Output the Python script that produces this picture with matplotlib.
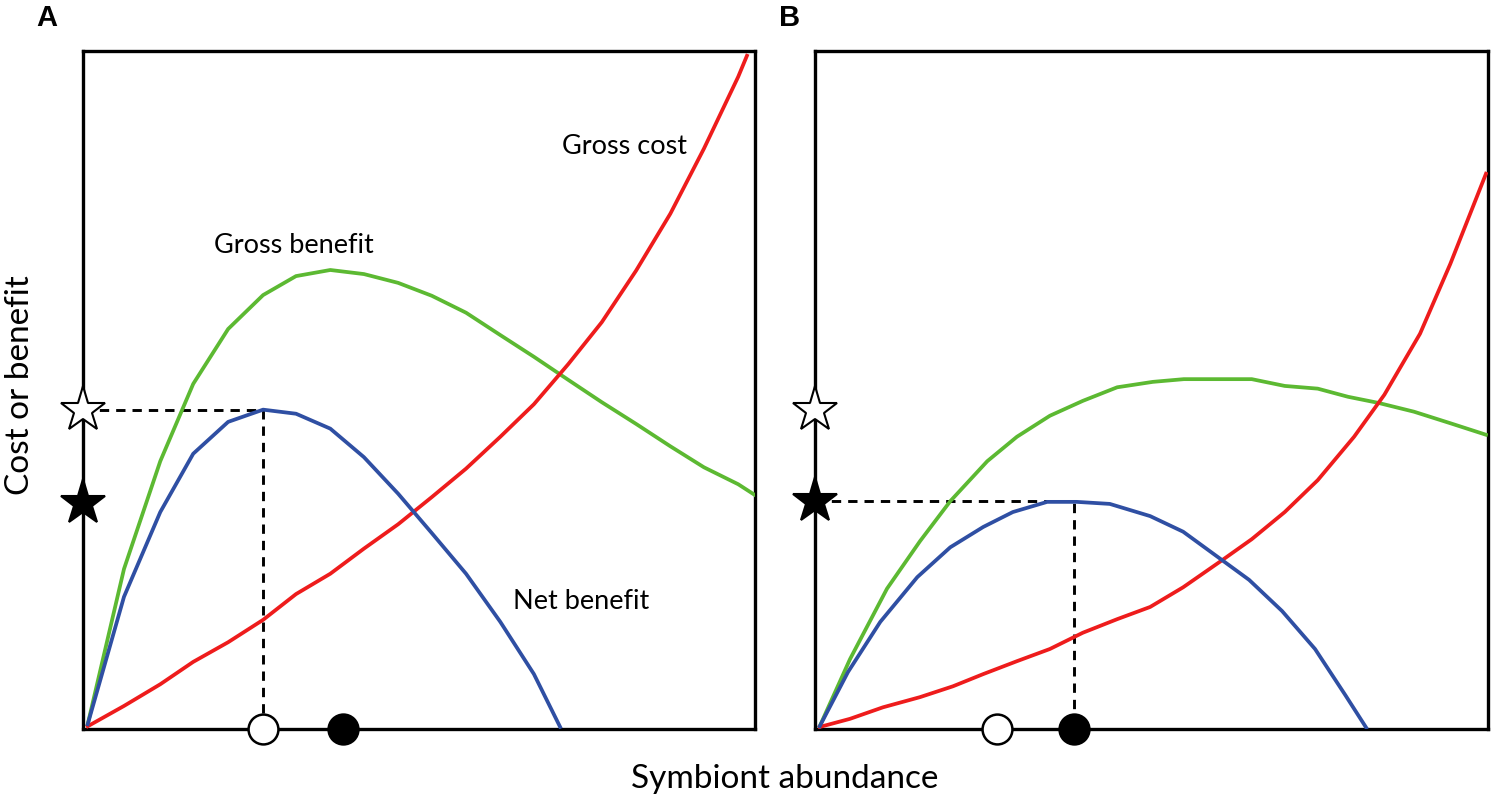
import matplotlib
matplotlib.use("Agg")
import matplotlib.pyplot as plt

plt.rcParams['font.family'] = ['Lato', 'DejaVu Sans']

# ---------------- Panel A data ----------------
a_benefit_x = [0.7, 6.1, 11.5, 16.4, 21.6, 26.8, 31.7, 36.8, 41.8, 46.9, 51.9,
               57.0, 62.1, 67.1, 72.2, 77.2, 82.3, 87.4, 92.4, 97.5, 100.0]
a_benefit_y = [0.7, 23.6, 39.5, 50.9, 59.0, 64.0, 66.8, 67.7, 67.1, 65.8, 63.9,
               61.4, 58.1, 54.9, 51.5, 48.2, 45.0, 41.7, 38.6, 36.1, 34.5]
a_cost_x = [0.7, 6.1, 11.5, 16.4, 21.6, 26.8, 31.7, 36.8, 41.8, 46.9, 51.9,
            57.0, 62.1, 67.1, 72.2, 77.2, 82.3, 87.4, 92.4, 97.5, 98.8]
a_cost_y = [0.4, 3.4, 6.6, 9.9, 12.8, 16.1, 19.9, 22.9, 26.6, 30.2, 34.2,
            38.4, 43.1, 47.9, 53.8, 60.0, 67.6, 76.0, 85.6, 96.2, 99.3]
a_net_x = [0.7, 6.1, 11.5, 16.4, 21.6, 26.8, 31.7, 36.8, 41.8, 46.9, 51.9,
           57.0, 62.1, 67.1, 71.0]
a_net_y = [0.7, 19.5, 32.0, 40.6, 45.3, 47.1, 46.5, 44.3, 40.1, 34.7, 28.9,
           22.9, 15.8, 8.1, 0.3]

# ---------------- Panel B data ----------------
b_benefit_x = [0.7, 5.2, 10.7, 15.6, 20.1, 25.6, 30.0, 34.9, 39.8, 44.9, 50.2,
               54.8, 59.9, 64.9, 69.8, 74.7, 79.2, 83.7, 89.0, 94.4, 99.7]
b_benefit_y = [0.4, 10.3, 20.7, 27.7, 33.6, 39.5, 43.1, 46.2, 48.4, 50.4, 51.2,
               51.6, 51.6, 51.6, 50.6, 50.2, 49.0, 48.1, 46.8, 45.1, 43.4]
b_cost_x = [0.7, 5.2, 10.1, 15.6, 20.5, 25.0, 30.0, 34.9, 39.8, 44.9, 49.8,
            54.7, 60.5, 64.9, 69.8, 74.7, 80.1, 84.6, 89.9, 94.4, 99.7]
b_cost_y = [0.3, 1.5, 3.2, 4.7, 6.3, 8.1, 10.0, 11.8, 14.2, 16.2, 18.0,
            20.9, 24.9, 28.0, 32.0, 36.7, 43.1, 49.3, 58.3, 68.6, 81.9]
b_net_x = [0.7, 4.9, 9.7, 15.2, 20.1, 25.0, 29.4, 34.5, 38.9, 43.8, 49.8,
           54.7, 60.5, 64.5, 69.4, 74.3, 78.8, 81.9]
b_net_y = [0.4, 8.4, 15.8, 22.4, 26.8, 29.8, 32.0, 33.5, 33.5, 33.2, 31.4,
           29.1, 24.9, 22.0, 17.4, 11.8, 5.0, 0.2]

# markers: (optimum abundance, max net benefit) etc.
a_open_star_y, a_filled_star_y = 47.1, 33.3
a_open_circle_x, a_filled_circle_x = 26.8, 38.7
a_dash_x, a_dash_y = 26.8, 47.1
b_open_star_y, b_filled_star_y = 47.1, 33.6
b_open_circle_x, b_filled_circle_x = 27.0, 38.5
b_dash_x, b_dash_y = 38.5, 33.6

GREEN = '#5cb932'
RED = '#ee1c1c'
BLUE = '#2f4fa3'

fig = plt.figure(figsize=(15, 8.03), dpi=100)
axA = fig.add_axes([83/1500, 73/803, 672/1500, 678/803])
axB = fig.add_axes([815/1500, 73/803, 673/1500, 678/803])

def draw(ax, bx, by, cx, cy, nx, ny, os_y, fs_y, oc_x, fc_x, dx, dy):
    ax.set_xlim(0, 100)
    ax.set_ylim(0, 100)
    ax.set_xticks([])
    ax.set_yticks([])
    for s in ax.spines.values():
        s.set_linewidth(2.4)
        s.set_color('black')
    ax.plot(bx, by, color=GREEN, lw=2.7, zorder=3)
    ax.plot(cx, cy, color=RED, lw=2.7, zorder=3)
    ax.plot(nx, ny, color=BLUE, lw=2.7, zorder=3)
    ax.plot([0, dx, dx], [dy, dy, 0], color='black', lw=2.1,
            ls=(0, (3.2, 2.4)), zorder=2, clip_on=False)
    ax.plot([0], [os_y], marker='*', ms=34, mfc='white', mec='black',
            mew=1.5, clip_on=False, zorder=6)
    ax.plot([0], [fs_y], marker='*', ms=34, mfc='black', mec='black',
            mew=1.5, clip_on=False, zorder=6)
    ax.plot([oc_x], [0], marker='o', ms=21.5, mfc='white', mec='black',
            mew=1.8, clip_on=False, zorder=6)
    ax.plot([fc_x], [0], marker='o', ms=21.5, mfc='black', mec='black',
            mew=1.8, clip_on=False, zorder=6)

draw(axA, a_benefit_x, a_benefit_y, a_cost_x, a_cost_y, a_net_x, a_net_y,
     a_open_star_y, a_filled_star_y, a_open_circle_x, a_filled_circle_x,
     a_dash_x, a_dash_y)
draw(axB, b_benefit_x, b_benefit_y, b_cost_x, b_cost_y, b_net_x, b_net_y,
     b_open_star_y, b_filled_star_y, b_open_circle_x, b_filled_circle_x,
     b_dash_x, b_dash_y)

# curve labels (panel A)
axA.text(31.4, 71.5, 'Gross benefit', fontsize=19.5, ha='center', va='center')
axA.text(80.6, 86.0, 'Gross cost', fontsize=19.5, ha='center', va='center')
axA.text(74.1, 18.9, 'Net benefit', fontsize=19.5, ha='center', va='center')

# panel letters
fig.text(47/1500, 1 - 18/803, 'A', fontsize=21, fontweight='bold',
         ha='center', va='center', family=['Liberation Sans', 'DejaVu Sans'])
fig.text(790/1500, 1 - 18/803, 'B', fontsize=21, fontweight='bold',
         ha='center', va='center', family=['Liberation Sans', 'DejaVu Sans'])

# axis titles
fig.text(785/1500, 1 - 779/803, 'Symbiont abundance', fontsize=24,
         ha='center', va='center')
fig.text(20/1500, 1 - 385/803, 'Cost or benefit', fontsize=24,
         ha='center', va='center', rotation=90)

fig.savefig('out.png', dpi=100)
